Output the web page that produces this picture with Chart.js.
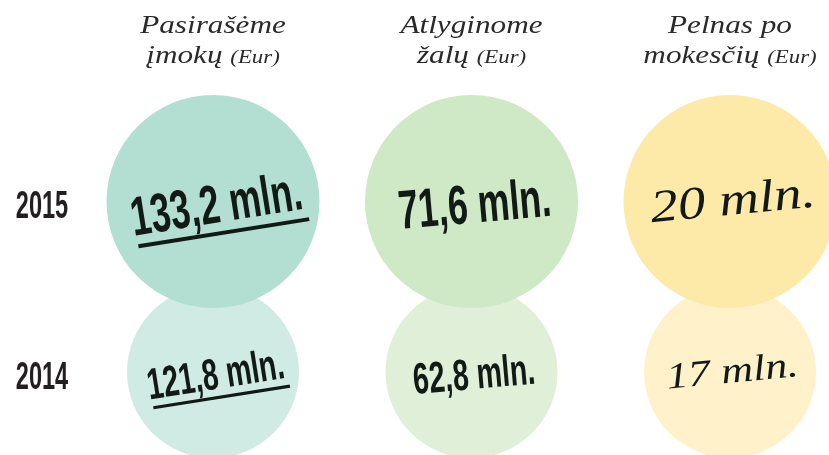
<!DOCTYPE html>
<html lang="lt">
<head>
<meta charset="utf-8">
<title>Pasirašėme įmokų, atlyginome žalų, pelnas po mokesčių</title>
<script src="https://cdn.jsdelivr.net/npm/chart.js@4/dist/chart.umd.min.js"></script>
<style>
    html, body { margin: 0; padding: 0; background: #ffffff; }
    #wrap { position: relative; width: 829px; height: 455px; }
</style>
</head>
<body>
<div id="wrap"><canvas id="bubbleChart"></canvas></div>
<script>
/* ============================================================
   Duomenys
   ============================================================ */
const years = ['2015', '2014'];
const metricTitles = ['Pasirašėme', 'Atlyginome', 'Pelnas po'];
const metricSubtitles = ['įmokų', 'žalų', 'mokesčių'];
const unitLabel = '(Eur)';

// mln. Eur, pagal metus (2015, 2014)
const premiumsSigned = [133.2, 121.8];
const claimsPaid = [71.6, 62.8];
const profitAfterTax = [20, 17];

const valuesByMetric = [premiumsSigned, claimsPaid, profitAfterTax];

/* ============================================================
   Stilius
   ============================================================ */
const fillColors = {
    '2015': ['#b3dfd3', '#cfe8c6', '#feeaa8'],
    '2014': ['#d0ebe3', '#e0f0d8', '#fff2cb']
};
const bubbleRadius = { '2015': 106.5, '2014': 86 };
const textScale = { '2015': 1, '2014': 0.8 };
const labelAngle = [-9, -5, -5.5];
const underlined = [true, false, false];

const SCRIPT_FONT = '"Liberation Serif", "DejaVu Serif", serif';
const BOLD_FONT = '"Liberation Sans", Arial, sans-serif';
const INK = '#121a16';
const CONDENSE = 0.65;

function formatValue(v) {
    return String(v).replace('.', ',') + ' mln.';
}

/**
 * Užrašai burbuluose
 */
const valueLabelsPlugin = {
    id: 'valueLabels',
    afterDatasetsDraw(chart) {
        const ctx = chart.ctx;
        // piešiam nuo apačios (2014), kad 2015 užrašai būtų viršuje
        for (let d = chart.data.datasets.length - 1; d >= 0; d--) {
            const year = years[d];
            const s = textScale[year];
            const meta = chart.getDatasetMeta(d);
            meta.data.forEach((el, i) => {
                const text = formatValue(valuesByMetric[i][d]);
                ctx.save();
                ctx.translate(el.x + 3 * s, el.y + 1 * s);
                ctx.rotate(labelAngle[i] * Math.PI / 180);
                ctx.fillStyle = INK;
                ctx.textBaseline = 'alphabetic';
                if (i < 2) {
                    ctx.font = `bold ${55 * s}px ${BOLD_FONT}`;
                    const w = ctx.measureText(text).width * CONDENSE;
                    ctx.save();
                    ctx.scale(CONDENSE, 1);
                    ctx.fillText(text, -w / 2 / CONDENSE, 20 * s);
                    ctx.restore();
                    if (underlined[i]) {
                        ctx.fillRect(-w / 2 + 3 * s, 29 * s, w, 4 * s);
                    }
                } else {
                    ctx.font = `italic ${46 * s}px ${SCRIPT_FONT}`;
                    const w = ctx.measureText(text).width;
                    ctx.scale(1.2, 1);
                    ctx.fillText(text, -w / 2, 12 * s);
                }
                ctx.restore();
            });
        }
    }
};

/**
 * Antraštės ir metų žymės
 */
const headersPlugin = {
    id: 'headers',
    afterDraw(chart) {
        const ctx = chart.ctx;
        const xScale = chart.scales.x;
        const yScale = chart.scales.y;
        ctx.save();
        ctx.fillStyle = '#2a2a2a';
        ctx.textBaseline = 'alphabetic';

        metricTitles.forEach((title, i) => {
            const cx = xScale.getPixelForValue(i);
            const sx = 1.2;

            ctx.font = `italic 26px ${SCRIPT_FONT}`;
            const w1 = ctx.measureText(title).width * sx;
            ctx.save();
            ctx.scale(sx, 1);
            ctx.fillText(title, (cx - w1 / 2) / sx, 33);
            ctx.restore();

            const sub = metricSubtitles[i] + ' ';
            const w2 = ctx.measureText(sub).width * sx;
            ctx.font = `italic 19px ${SCRIPT_FONT}`;
            const w3 = ctx.measureText(unitLabel).width * sx;
            const start = cx - (w2 + w3) / 2;
            ctx.save();
            ctx.scale(sx, 1);
            ctx.font = `italic 26px ${SCRIPT_FONT}`;
            ctx.fillText(sub, start / sx, 63);
            ctx.font = `italic 19px ${SCRIPT_FONT}`;
            ctx.fillText(unitLabel, (start + w2) / sx, 63);
            ctx.restore();
        });

        ctx.fillStyle = '#231f20';
        ctx.font = `bold 38px ${BOLD_FONT}`;
        years.forEach((year) => {
            const y = yScale.getPixelForValue(Number(year));
            const w = ctx.measureText(year).width * 0.62;
            ctx.save();
            ctx.scale(0.62, 1);
            ctx.fillText(year, (42 - w / 2) / 0.62, y + 17);
            ctx.restore();
        });
        ctx.restore();
    }
};

/* ============================================================
   Grafikas
   ============================================================ */
const datasets = years.map((year) => ({
    label: year,
    data: valuesByMetric.map((vals, i) => ({ x: i, y: Number(year) })),
    backgroundColor: fillColors[year],
    borderWidth: 0,
    radius: bubbleRadius[year],
    hoverRadius: 0,
    clip: false
}));

// burbulų valdiklis pats atitraukia grafiko plotą per didžiausią spindulį
new Chart(document.getElementById('bubbleChart'), {
    type: 'bubble',
    data: { datasets: datasets },
    options: {
        responsive: true,
        maintainAspectRatio: false,
        animation: false,
        events: [],
        layout: { padding: 0 },
        plugins: {
            legend: { display: false },
            tooltip: { enabled: false }
        },
        scales: {
            x: { type: 'linear', display: false, min: -0.412, max: 1.971 },
            y: { type: 'linear', display: false, min: 2014.138, max: 2015.557 }
        }
    },
    plugins: [valueLabelsPlugin, headersPlugin]
});
</script>
</body>
</html>
